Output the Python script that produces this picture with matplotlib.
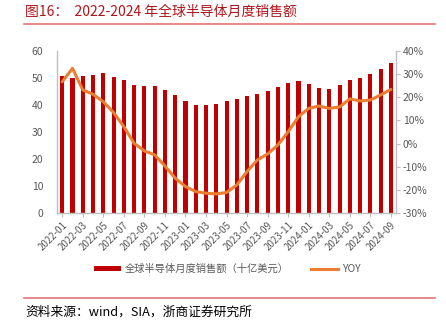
import matplotlib
matplotlib.use("Agg")
import matplotlib.pyplot as plt
from matplotlib.lines import Line2D
from matplotlib.patches import Patch

plt.rcParams["font.family"] = ["Noto Sans CJK SC", "DejaVu Sans"]

# monthly labels 2022-01 .. 2024-09
months = [f"{y}-{m:02d}" for y in (2022, 2023, 2024) for m in range(1, 13)][:33]

# global semiconductor monthly sales (billion USD)
sales = [50.8, 50.0, 50.7, 51.2, 51.7, 50.4, 49.1, 47.4, 47.2, 47.2, 45.7, 43.7,
         41.5, 39.9, 39.9, 40.4, 41.3, 42.2, 43.2, 44.1, 45.1, 46.7, 48.1, 48.9,
         47.8, 46.2, 46.0, 47.3, 49.3, 50.1, 51.5, 53.3, 55.6]

# year-over-year growth (%)
yoy = [26.7, 32.5, 23.2, 21.3, 18.1, 13.4, 7.3, 0.1, -3.2, -4.9, -9.7, -15.0,
       -18.6, -20.8, -21.5, -21.8, -21.2, -17.9, -12.1, -7.1, -4.5, -0.6, 5.1, 11.6,
       15.2, 16.2, 15.2, 15.8, 19.3, 18.4, 18.8, 21.0, 23.4]

BAR_COLOR = "#C00000"
LINE_COLOR = "#ED7D31"
GREY = "#595959"
RULE_COLOR = "#E57373"

fig = plt.figure(figsize=(4.46, 3.25), dpi=100)
ax = fig.add_axes([0.128, 0.345, 0.76, 0.498])
ax2 = ax.twinx()

x = list(range(len(months)))
ax.bar(x, sales, width=0.4, color=BAR_COLOR, zorder=2)
ax2.plot(x, yoy, color=LINE_COLOR, linewidth=2.2, solid_joinstyle="round",
         solid_capstyle="round", zorder=3)

ax.set_xlim(-0.5, len(months) - 0.5)
ax.set_ylim(0, 60)
ax.set_yticks(range(0, 61, 10))
ax2.set_ylim(-30, 40)
ax2.set_yticks(range(-30, 41, 10))
ax2.set_yticklabels([f"{v}%" for v in range(-30, 41, 10)])

ax.set_xticks(x[::2])
ax.set_xticklabels(months[::2], rotation=45, ha="right", rotation_mode="anchor")

for a in (ax, ax2):
    for s in a.spines.values():
        s.set_visible(False)
    a.tick_params(colors=GREY, labelsize=7.5, length=3, width=0.8)
ax.spines["left"].set_visible(True)
ax.spines["bottom"].set_visible(True)
ax2.spines["right"].set_visible(True)
for s in (ax.spines["left"], ax.spines["bottom"], ax2.spines["right"]):
    s.set_color("#BFBFBF")
    s.set_linewidth(1.0)
ax.tick_params(axis="x", labelsize=7, color="#BFBFBF", pad=2)
ax.tick_params(axis="y", length=0, pad=10)
ax2.tick_params(axis="y", color="#BFBFBF", length=3, pad=2)

handles = [Patch(facecolor=BAR_COLOR, edgecolor="none"),
           Line2D([0], [0], color=LINE_COLOR, linewidth=2.2)]
fig.legend(handles, ["全球半导体月度销售额（十亿美元）", "YOY"], loc="center",
           bbox_to_anchor=(0.51, 0.172), ncol=2, frameon=False, fontsize=7.4,
           labelcolor=GREY, handlelength=2.6, handleheight=0.5, columnspacing=2.2,
           handletextpad=0.4)

fig.text(0.056, 0.963, "图16：  2022-2024 年全球半导体月度销售额", color="#B0151B",
         fontsize=10, va="center", ha="left")
fig.add_artist(Line2D([0.054, 0.976], [0.927, 0.927], color=RULE_COLOR, linewidth=1.2))
fig.add_artist(Line2D([0.054, 0.976], [0.083, 0.083], color=RULE_COLOR, linewidth=1.2))
fig.text(0.056, 0.04, "资料来源：wind，SIA，浙商证券研究所", color="black",
         fontsize=9.2, va="center", ha="left")

fig.savefig("out.png", dpi=100)
